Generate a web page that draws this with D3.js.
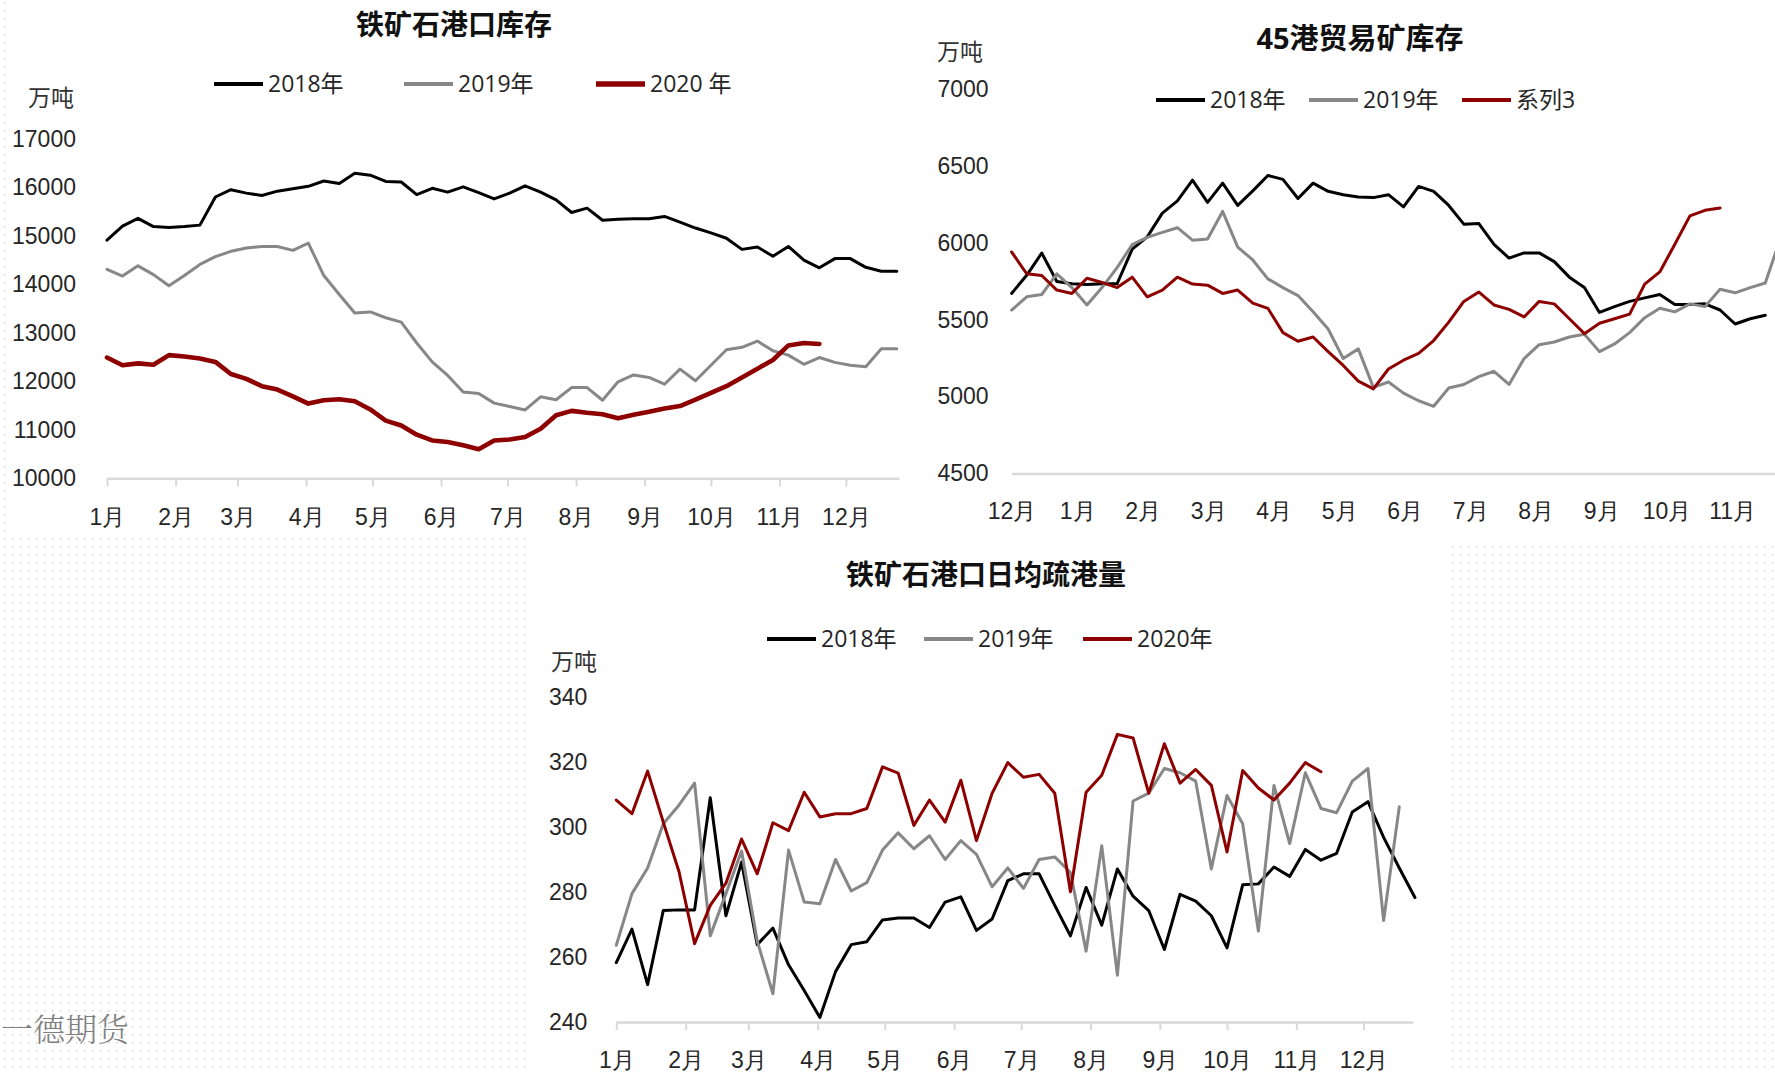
<!DOCTYPE html>
<html>
<head>
<meta charset="utf-8">
<script src="https://cdn.jsdelivr.net/npm/d3@7"></script>
<style>
  body { margin: 0; background: #fff; }
  svg { display: block; font-family: "Open Sans", "Noto Sans CJK SC", sans-serif; }
</style>
</head>
<body>
<svg id="board" width="1775" height="1073"></svg>
<script>
// month labels
var monthsJan = ["1月","2月","3月","4月","5月","6月","7月","8月","9月","10月","11月","12月"];
var monthsDec = ["12月","1月","2月","3月","4月","5月","6月","7月","8月","9月","10月","11月"];

// 铁矿石港口库存 (weekly, 万吨)
var stock2018 = [14910,15200,15360,15190,15170,15190,15220,15800,15950,15880,15830,15920,15970,16020,16130,16080,16290,16250,16120,16110,15850,15980,15900,16010,15890,15760,15880,16030,15900,15740,15480,15570,15320,15340,15350,15350,15400,15280,15160,15060,14950,14720,14770,14580,14780,14500,14340,14530,14530,14350,14270,14270];
var stock2019 = [14310,14170,14380,14200,13970,14180,14410,14570,14680,14750,14780,14780,14700,14850,14180,13790,13410,13430,13310,13220,12790,12400,12120,11780,11750,11550,11480,11410,11680,11620,11870,11870,11610,11990,12130,12080,11940,12250,12010,12330,12650,12700,12830,12630,12540,12350,12490,12390,12330,12300,12670,12670];
var stock2020 = [12490,12330,12370,12340,12540,12510,12470,12400,12150,12050,11900,11830,11690,11540,11610,11630,11590,11420,11190,11090,10900,10780,10750,10680,10600,10780,10800,10850,11020,11300,11390,11350,11320,11240,11310,11370,11440,11490,11620,11760,11900,12080,12260,12440,12740,12790,12770];
var stockTicks = [10000,11000,12000,13000,14000,15000,16000,17000];

// 45港贸易矿库存 (weekly from December, 万吨)
var trade2018 = [5672,5790,5935,5750,5735,5730,5735,5735,5960,6040,6195,6275,6410,6265,6390,6245,6340,6440,6415,6290,6390,6337,6315,6300,6296,6315,6236,6369,6337,6245,6123,6127,5992,5902,5936,5936,5879,5778,5710,5548,5586,5620,5643,5665,5600,5600,5604,5564,5473,5507,5530];
var trade2019 = [5564,5650,5665,5800,5710,5597,5710,5840,5990,6037,6070,6100,6019,6026,6206,5974,5890,5767,5710,5658,5552,5440,5248,5311,5060,5095,5023,4973,4937,5056,5079,5130,5165,5079,5248,5338,5356,5388,5406,5293,5343,5417,5514,5575,5552,5604,5586,5699,5676,5710,5740,6030];
var trade2020 = [5942,5800,5789,5694,5672,5771,5744,5710,5778,5650,5694,5778,5733,5726,5672,5694,5609,5575,5417,5361,5388,5293,5203,5101,5050,5180,5237,5282,5365,5485,5620,5681,5597,5568,5519,5620,5604,5507,5410,5478,5507,5537,5733,5812,5992,6177,6213,6229];
var tradeTicks = [4500,5000,5500,6000,6500,7000];

// 铁矿石港口日均疏港量 (weekly, 万吨)
var ship2018 = [258.3,268.6,251.5,274.3,274.5,274.5,309.0,272.7,289.2,263.8,268.9,257.6,249.7,241.4,255.5,263.8,264.7,271.4,272.0,272.0,269.1,276.9,278.5,268.2,271.7,283.5,285.6,285.6,275.9,266.5,281.4,269.8,287.1,278.7,274.3,262.3,279.3,277.2,272.7,262.8,282.2,282.5,287.7,284.8,293.1,289.8,291.9,304.6,307.8,296.8,287.4,278.3];
var ship2019 = [263.6,279.5,287.4,301.0,306.7,313.5,266.5,279.5,292.6,264.9,248.7,292.9,276.9,276.4,290.0,280.3,282.9,292.9,298.2,293.3,297.3,290.0,295.8,291.6,281.6,287.4,281.1,290.0,290.8,286.0,261.8,294.2,254.4,308.0,310.4,318.0,316.7,314.1,287.1,309.7,301.0,268.0,312.8,294.9,316.7,305.7,304.4,314.1,318.0,271.2,306.2];
var ship2020 = [308.3,304.1,317.2,301.5,286.3,264.1,275.9,282.7,296.3,285.6,301.3,298.9,310.7,303.1,304.1,304.1,305.7,318.5,316.6,300.5,308.3,301.5,314.4,295.8,310.4,319.8,315.3,316.2,310.4,280.1,310.7,315.9,328.5,327.4,310.4,325.6,313.5,317.7,312.8,292.3,317.4,312.0,308.3,313.5,319.8,317.0];
var shipTicks = [240,260,280,300,320,340];

var BLACK = "#000000", GREY = "#878787", RED = "#8e0000";
var TXT = "#262626", AXIS = "#d9d9d9";

var svg = d3.select("#board");

// dotted page background + white chart panels
var pat = svg.append("defs").append("pattern")
    .attr("id", "dots").attr("patternUnits", "userSpaceOnUse")
    .attr("width", 8).attr("height", 8).attr("x", 4).attr("y", 2);
pat.append("rect").attr("width", 1.4).attr("height", 1.4).attr("fill", "#cfcfcf");
svg.append("rect").attr("width", 1775).attr("height", 1073).attr("fill", "url(#dots)");

svg.selectAll("rect.panel")
    .data([[10, 0, 907, 538], [924, 0, 851, 543], [527, 537, 918, 536]])
    .enter().append("rect")
    .attr("class", "panel")
    .attr("x", function(d){ return d[0]; })
    .attr("y", function(d){ return d[1]; })
    .attr("width", function(d){ return d[2]; })
    .attr("height", function(d){ return d[3]; })
    .attr("fill", "#fff");

function weekDates(start, n) {
  return d3.range(n).map(function(i){ return d3.timeDay.offset(start, 7 * i); });
}

function drawPanel(o) {
  var g = svg.append("g");

  // y labels only, no gridlines
  var ya = g.append("g")
      .attr("transform", "translate(" + o.x.range()[0] + ",0)")
      .call(d3.axisLeft(o.y).tickValues(o.yTicks).tickFormat(d3.format("d"))
        .tickSize(0).tickPadding(o.yPad));
  ya.select(".domain").remove();
  ya.selectAll("text").attr("font-size", "23px").attr("fill", TXT).attr("font-family", null);

  var xa = g.append("g")
      .attr("transform", "translate(0," + o.y.range()[0] + ")")
      .call(d3.axisBottom(o.x).tickValues(o.xTicks)
        .tickFormat(function(d, i){ return o.xLabels[i]; })
        .tickSizeInner(o.tickLen).tickSizeOuter(0).tickPadding(o.xPad));
  xa.select(".domain").attr("stroke", AXIS).attr("stroke-width", 2.5);
  xa.selectAll(".tick line").attr("stroke", AXIS).attr("stroke-width", 2);
  xa.selectAll("text").attr("font-size", "23px").attr("fill", TXT).attr("font-family", null);

  var line = d3.line()
      .x(function(d){ return o.x(d[0]); })
      .y(function(d){ return o.y(d[1]); });

  o.series.forEach(function(s){
    var pts = s.values.map(function(v, i){ return [o.xAt(i), v]; });
    g.append("path")
        .datum(pts)
        .attr("d", line)
        .attr("fill", "none")
        .attr("stroke", s.color)
        .attr("stroke-width", s.width)
        .attr("stroke-linejoin", "round")
        .attr("stroke-linecap", "round");
  });

  // legend
  o.series.forEach(function(s, i){
    var lx = o.legendX[i];
    g.append("line")
        .attr("x1", lx).attr("x2", lx + 49)
        .attr("y1", o.legendY).attr("y2", o.legendY)
        .attr("stroke", s.color).attr("stroke-width", s.width + 0.8);
    g.append("text")
        .attr("x", lx + 54).attr("y", o.legendY).attr("dy", "0.35em")
        .attr("font-size", "23px").attr("fill", TXT)
        .text(s.name);
  });

  g.append("text")
      .attr("x", o.titleX).attr("y", o.titleY).attr("dy", "0.35em")
      .attr("text-anchor", "middle")
      .attr("font-size", o.titleSize + "px").attr("font-weight", "bold").attr("fill", "#111")
      .text(o.title);

  g.append("text")
      .attr("x", o.unitX).attr("y", o.unitY).attr("dy", "0.35em")
      .attr("font-size", "23px").attr("fill", "#333")
      .text("万吨");
}

// chart 1
var x1 = d3.scaleTime().domain([new Date(2018, 0, 1), new Date(2018, 11, 25)]).range([107, 899]);
var d1 = weekDates(new Date(2018, 0, 1), 52);
drawPanel({
  x: x1,
  y: d3.scaleLinear().domain([10000, 17000]).range([478.3, 138.8]),
  xAt: function(i){ return d1[i]; },
  xTicks: d3.timeMonth.range(new Date(2018, 0, 1), new Date(2018, 11, 2)),
  xLabels: monthsJan, tickLen: 8, xPad: 22,
  yTicks: stockTicks, yPad: 31,
  series: [
    { name: "2018年", values: stock2018, color: BLACK, width: 3 },
    { name: "2019年", values: stock2019, color: GREY, width: 3 },
    { name: "2020 年", values: stock2020, color: RED, width: 4.6 }
  ],
  legendX: [214, 404, 596], legendY: 84,
  title: "铁矿石港口库存", titleX: 454, titleY: 25, titleSize: 28,
  unitX: 28, unitY: 98
});

// chart 2, evenly spaced months starting in December
var x2 = d3.scaleLinear().domain([0, 12]).range([1011.6, 1797.6]);
drawPanel({
  x: x2,
  y: d3.scaleLinear().domain([4500, 7000]).range([473.4, 89.5]),
  xAt: function(i){ return i * 7 / (365 / 12); },
  xTicks: d3.range(12),
  xLabels: monthsDec, tickLen: 0, xPad: 29,
  yTicks: tradeTicks, yPad: 23,
  series: [
    { name: "2018年", values: trade2018, color: BLACK, width: 3 },
    { name: "2019年", values: trade2019, color: GREY, width: 3 },
    { name: "系列3", values: trade2020, color: RED, width: 3 }
  ],
  legendX: [1156, 1309, 1462], legendY: 100,
  title: "45港贸易矿库存", titleX: 1360, titleY: 39, titleSize: 29,
  unitX: 937, unitY: 52
});

// chart 3
var x3 = d3.scaleTime().domain([new Date(2018, 0, 1), new Date(2018, 11, 23)]).range([616.3, 1412.7]);
var d3w = weekDates(new Date(2018, 0, 1), 52);
drawPanel({
  x: x3,
  y: d3.scaleLinear().domain([240, 340]).range([1022, 697]),
  xAt: function(i){ return d3w[i]; },
  xTicks: d3.timeMonth.range(new Date(2018, 0, 1), new Date(2018, 11, 2)),
  xLabels: monthsJan, tickLen: 8, xPad: 22,
  yTicks: shipTicks, yPad: 29,
  series: [
    { name: "2018年", values: ship2018, color: BLACK, width: 3 },
    { name: "2019年", values: ship2019, color: GREY, width: 3 },
    { name: "2020年", values: ship2020, color: RED, width: 3 }
  ],
  legendX: [767, 924, 1083], legendY: 639,
  title: "铁矿石港口日均疏港量", titleX: 986, titleY: 575, titleSize: 28,
  unitX: 551, unitY: 662
});

// watermark
svg.append("text")
    .attr("x", 1).attr("y", 1030).attr("dy", "0.35em")
    .attr("font-family", "'Noto Serif CJK SC', 'Noto Sans CJK SC', serif")
    .attr("font-size", "32px").attr("font-weight", 300).attr("fill", "#808080")
    .text("一德期货");
</script>
</body>
</html>
